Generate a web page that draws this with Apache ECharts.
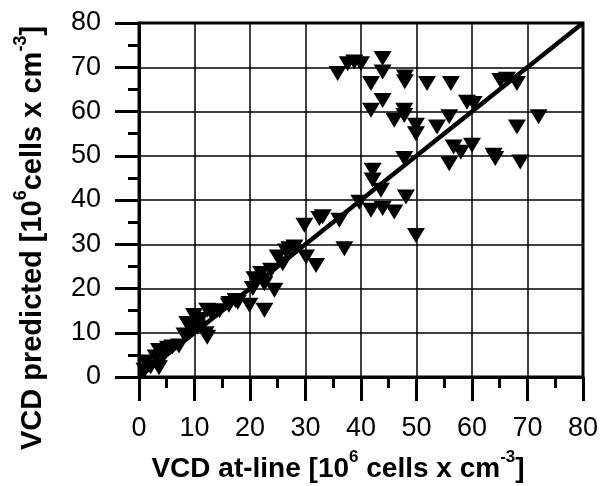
<!DOCTYPE html>
<html>
<head>
<meta charset="utf-8">
<script src="https://cdn.jsdelivr.net/npm/echarts@6/dist/echarts.min.js"></script>
<style>html,body{margin:0;padding:0;background:#fff}#c{width:601px;height:486px}</style>
</head>
<body>
<div id="c"></div>
<script>
var atLine = [1.0,1.2,2.1,3.6,3.0,3.6,4.5,5.2,6.0,7.2,8.2,8.7,9.5,9.9,10.5,11.0,12.0,12.3,12.3,13.0,14.5,16.2,17.4,
  16.3,17.8,19.9,20.5,20.8,22.0,22.6,22.6,23.8,24.4,25.0,25.9,27.1,28.0,26.5,29.8,30.1,31.9,32.5,33.1,36.1,37.0,
  42.1,42.1,43.6,48.1,39.7,41.8,43.9,46.0,49.9,47.8,
  35.8,37.6,38.8,40.0,43.9,43.9,41.8,47.9,47.9,51.9,56.2,65.1,66.3,68.1,
  43.9,41.8,47.8,47.8,46.0,49.9,49.9,53.7,60.3,59.1,55.9,68.1,72.0,
  56.7,58.0,60.0,55.9,63.9,64.2,68.7];
var predicted = [1.5,3.4,2.3,2.1,4.5,6.0,5.0,6.5,6.8,7.0,9.5,12.1,10.5,13.9,11.3,13.0,9.8,9.0,15.1,14.5,15.0,16.2,17.3,
  16.6,16.9,16.2,20.0,22.2,23.4,21.1,15.1,24.1,19.6,27.1,25.6,29.0,29.4,28.5,34.3,27.1,25.2,35.8,36.2,35.4,29.0,
  46.7,44.5,42.2,40.7,39.5,37.7,38.1,37.3,32.0,49.4,
  68.6,70.8,71.2,70.8,72.0,68.9,66.3,67.8,66.7,66.3,66.3,67.0,67.3,66.3,
  62.5,60.3,60.3,59.1,58.0,56.9,55.0,56.5,61.8,62.1,58.8,56.5,58.8,
  52.0,50.8,52.4,48.2,50.1,49.4,48.6];
var fitLine = [0, 80];
var tickStep = 10;

var pts = atLine.map(function (x, i) { return [x, predicted[i]]; });
var linePts = fitLine.map(function (v) { return [v, v]; });

var chart = echarts.init(document.getElementById('c'), null, {renderer: 'canvas'});
var ff = '"Liberation Sans", Arial, sans-serif';
function axisMain(pos) {
  return {
    type: 'value', min: 0, max: 80, interval: tickStep, position: pos,
    axisLine: {show: true, onZero: false, lineStyle: {color: '#000', width: 3}},
    axisTick: {show: true, inside: false, length: 24, lineStyle: {color: '#000', width: 3}},
    minorTick: {show: true, splitNumber: 2, length: 11, lineStyle: {color: '#000', width: 3}},
    splitLine: {show: true, lineStyle: {color: '#000', width: 1.5}},
    axisLabel: {color: '#000', fontSize: 27, fontFamily: ff}
  };
}
var xa = axisMain('bottom'); xa.axisLabel.margin = 38;
var ya = axisMain('left'); ya.axisLabel.margin = 38;
var rich = {
  b: {fontSize: 28, fontWeight: 'bold', fontFamily: ff, color: '#000', lineHeight: 34, verticalAlign: 'bottom'},
  s: {fontSize: 17, fontWeight: 'bold', fontFamily: ff, color: '#000', lineHeight: 17, verticalAlign: 'top'}
};
var richY = {
  b: {fontSize: 29, fontWeight: 'bold', fontFamily: ff, color: '#000', lineHeight: 35, verticalAlign: 'bottom'},
  s: {fontSize: 18, fontWeight: 'bold', fontFamily: ff, color: '#000', lineHeight: 18, verticalAlign: 'top'}
};
chart.setOption({
  animation: false,
  grid: {left: 139, right: 16, top: 23, bottom: 109, show: true, borderColor: '#000', borderWidth: 3, backgroundColor: 'transparent'},
  xAxis: xa,
  yAxis: ya,
  graphic: [
    {type: 'text', x: 338, y: 466, style: {text: '{b|VCD at-line [10}{s|6}{b| cells x cm}{s|-3}{b|]}', rich: rich, align: 'center', verticalAlign: 'middle'}},
    {type: 'text', x: 30, y: 238, rotation: Math.PI / 2, style: {text: '{b|VCD predicted [10}{s|6}{b|cells x cm}{s|-3}{b|]}', rich: richY, align: 'center', verticalAlign: 'middle'}}
  ],
  series: [
    {type: 'scatter', data: pts, symbol: 'triangle', symbolRotate: 180, symbolSize: [18, 15], itemStyle: {color: '#000', opacity: 1}, z: 3},
    {type: 'line', data: linePts, showSymbol: false, symbol: 'none', lineStyle: {color: '#000', width: 4.5}, z: 4}
  ]
});
</script>
</body>
</html>
